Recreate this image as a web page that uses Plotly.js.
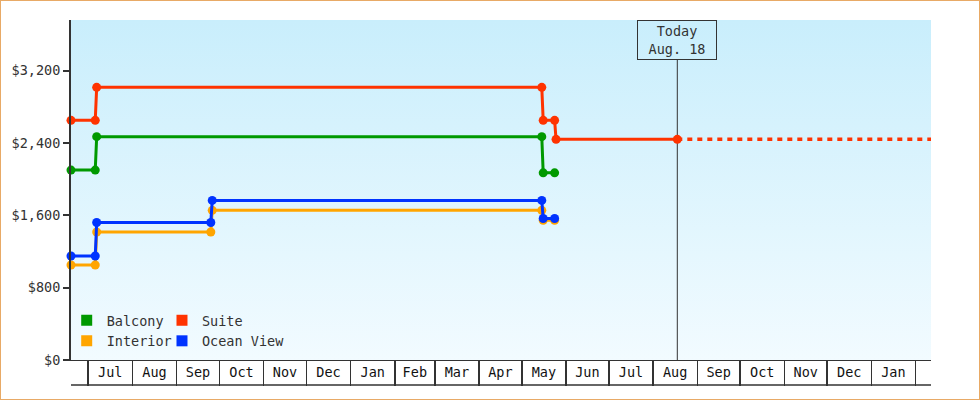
<!DOCTYPE html>
<html>
<head>
<meta charset="utf-8">
<script src="https://cdn.plot.ly/plotly-3.0.1.min.js"></script>
<style>
  body { margin: 0; background: #fff; }
  #chart { width: 978px; height: 398px; border: 1px solid #e8aa66; }
</style>
</head>
<body>
<div id="chart"></div>
<script>
// price history: one point on each side of every price change
var balconyDates = ['2014-06-19', '2014-07-06', '2014-07-07', '2015-05-15', '2015-05-16', '2015-05-24'];
var balconyPrices = [2100, 2100, 2470, 2470, 2070, 2070];

var suiteDates = ['2014-06-19', '2014-07-06', '2014-07-07', '2015-05-15', '2015-05-16', '2015-05-24', '2015-05-25', '2015-08-18'];
var suitePrices = [2650, 2650, 3015, 3015, 2650, 2650, 2440, 2440];

var interiorDates = ['2014-06-19', '2014-07-06', '2014-07-07', '2014-09-25', '2014-09-26', '2015-05-15', '2015-05-16', '2015-05-24'];
var interiorPrices = [1050, 1050, 1415, 1415, 1655, 1655, 1545, 1545];

var oceanDates = ['2014-06-19', '2014-07-06', '2014-07-07', '2014-09-25', '2014-09-26', '2015-05-15', '2015-05-16', '2015-05-24'];
var oceanPrices = [1150, 1150, 1520, 1520, 1765, 1765, 1565, 1565];

// suite price carried on past today
var suiteForecastDates = ['2015-08-18', '2016-02-12'];
var suiteForecastPrices = [2440, 2440];

var todayDate = '2015-08-18';
var todayLabel = 'Today<br>Aug. 18';

var monthStarts = ['2014-07-01', '2014-08-01', '2014-09-01', '2014-10-01', '2014-11-01', '2014-12-01',
  '2015-01-01', '2015-02-01', '2015-03-01', '2015-04-01', '2015-05-01', '2015-06-01', '2015-07-01',
  '2015-08-01', '2015-09-01', '2015-10-01', '2015-11-01', '2015-12-01', '2016-01-01', '2016-02-01'];
var monthLabels = ['Jul', 'Aug', 'Sep', 'Oct', 'Nov', 'Dec', 'Jan', 'Feb', 'Mar', 'Apr', 'May', 'Jun',
  'Jul', 'Aug', 'Sep', 'Oct', 'Nov', 'Dec', 'Jan'];

var xRange = ['2014-06-19', '2016-02-11 20:00'];
var yRange = [0, 3760];

var MONO = 'DejaVu Sans Mono, monospace';
var DARK = '#333';
var FS = 13.5;

function midDate(a, b) {
  var t = (Date.parse(a) + Date.parse(b)) / 2;
  return new Date(t).toISOString().slice(0, 19).replace('T', ' ');
}

var labelVals = [];
for (var i = 0; i < monthLabels.length; i++) {
  labelVals.push(midDate(monthStarts[i], monthStarts[i + 1]));
}

function priceTrace(name, xs, ys, color) {
  return {
    x: xs,
    y: ys,
    name: name,
    type: 'scatter',
    mode: 'lines+markers',
    showlegend: false,
    cliponaxis: false,
    line: { color: color, width: 3 },
    marker: { color: color, size: 9 },
    hoverinfo: 'x+y'
  };
}

// legend-only entries, square swatches like the original
// (they sit on x2 so the month-box axis gets drawn)
function legendTrace(name, color, legendId) {
  return {
    x: [null],
    y: [null],
    xaxis: 'x2',
    name: name,
    type: 'scatter',
    mode: 'markers',
    legend: legendId,
    marker: { color: color, size: 11, symbol: 'square' }
  };
}

var traces = [
  priceTrace('Balcony', balconyDates, balconyPrices, '#009900'),
  priceTrace('Suite', suiteDates, suitePrices, '#ff3300'),
  priceTrace('Interior', interiorDates, interiorPrices, '#ffa500'),
  priceTrace('Ocean View', oceanDates, oceanPrices, '#0033ff'),
  {
    x: suiteForecastDates,
    y: suiteForecastPrices,
    name: 'Suite',
    type: 'scatter',
    mode: 'lines',
    showlegend: false,
    line: { color: '#ff3300', width: 3.5, dash: '5px,5px' }
  },
  legendTrace('Balcony', '#009900', 'legend'),
  legendTrace('Interior', '#ffa500', 'legend'),
  legendTrace('Suite', '#ff3300', 'legend2'),
  legendTrace('Ocean View', '#0033ff', 'legend2')
];

var gradient = 'data:image/svg+xml;utf8,' + encodeURIComponent(
  '<svg xmlns="http://www.w3.org/2000/svg" width="10" height="100" preserveAspectRatio="none">' +
  '<defs><linearGradient id="g" x1="0" y1="0" x2="0" y2="1">' +
  '<stop offset="0" stop-color="#c9eefc"/><stop offset="1" stop-color="#f2fbff"/>' +
  '</linearGradient></defs><rect width="10" height="100" fill="url(#g)"/></svg>');

var legendStyle = {
  bgcolor: 'rgba(0,0,0,0)', borderwidth: 0,
  font: { family: MONO, size: FS, color: DARK },
  xanchor: 'left', yanchor: 'top', y: 0.1618
};

var layout = {
  width: 978,
  height: 398,
  margin: { l: 70, r: 48, t: 19, b: 39, pad: 0 },
  paper_bgcolor: '#fff',
  plot_bgcolor: 'rgba(0,0,0,0)',
  font: { family: MONO, size: FS, color: DARK },
  xaxis: {
    type: 'date',
    range: xRange,
    tickvals: labelVals,
    ticktext: monthLabels,
    ticks: '',
    showgrid: false,
    zeroline: false,
    showline: true,
    linecolor: DARK,
    linewidth: 1,
    tickfont: { family: MONO, size: FS, color: '#111' },
    fixedrange: true
  },
  xaxis2: {
    type: 'date',
    overlaying: 'x',
    anchor: 'y',
    side: 'bottom',
    range: xRange,
    tickvals: monthStarts,
    ticks: 'outside',
    ticklen: 25,
    tickwidth: 1.5,
    tickcolor: DARK,
    showticklabels: false,
    showgrid: false,
    zeroline: false,
    showline: false,
    fixedrange: true
  },
  yaxis: {
    range: yRange,
    dtick: 800,
    tick0: 0,
    tickprefix: '$',
    tickformat: ',d',
    ticks: 'outside',
    ticklen: 6,
    tickwidth: 2,
    tickcolor: DARK,
    showline: true,
    linecolor: DARK,
    linewidth: 2,
    showgrid: false,
    zeroline: false,
    tickfont: { family: MONO, size: FS, color: DARK },
    fixedrange: true
  },
  showlegend: true,
  legend: Object.assign({ x: -0.005 }, legendStyle),
  legend2: Object.assign({ x: 0.1058 }, legendStyle),
  images: [{
    source: gradient,
    xref: 'paper', yref: 'paper',
    x: 0, y: 1, sizex: 1, sizey: 1,
    xanchor: 'left', yanchor: 'top',
    sizing: 'stretch',
    layer: 'below'
  }],
  shapes: [
    // bottom rule of the month boxes
    {
      type: 'line', xref: 'paper', yref: 'paper',
      x0: 0, x1: 1, y0: -25 / 340, y1: -25 / 340,
      line: { color: DARK, width: 1.5 }
    },
    // today marker
    {
      type: 'line', xref: 'x', yref: 'paper',
      x0: todayDate, x1: todayDate, y0: 0, y1: 1 - 40 / 340,
      layer: 'below',
      line: { color: DARK, width: 1 }
    }
  ],
  annotations: [{
    x: todayDate, xref: 'x',
    y: 1, yref: 'paper',
    xanchor: 'center', yanchor: 'top',
    text: todayLabel,
    showarrow: false,
    align: 'center',
    width: 74,
    height: 34,
    borderpad: 2,
    bordercolor: DARK,
    borderwidth: 1,
    font: { family: MONO, size: FS, color: DARK }
  }]
};

Plotly.newPlot('chart', traces, layout, { displayModeBar: false, staticPlot: true });
</script>
</body>
</html>
